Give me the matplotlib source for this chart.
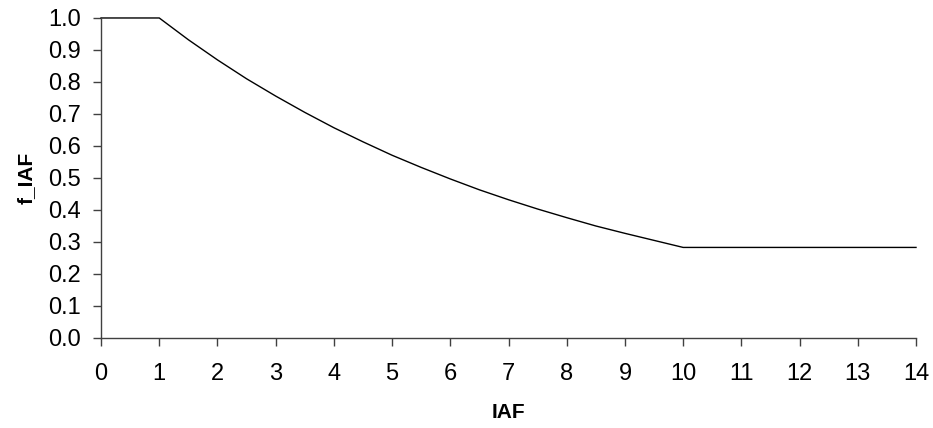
import matplotlib
matplotlib.use("Agg")
import matplotlib.pyplot as plt

plt.rcParams['font.family'] = ['Liberation Sans', 'DejaVu Sans']

# IAF vs f_IAF response
iaf = [0, 1, 1.5, 2, 2.5, 3, 3.5, 4, 4.5, 5, 5.5, 6, 6.5, 7, 7.5, 8, 8.5,
       9, 9.5, 10, 11, 12, 13, 14]
f_iaf = [1.0, 1.0, 0.932, 0.869, 0.81, 0.756, 0.705, 0.657, 0.613, 0.571,
         0.533, 0.497, 0.463, 0.432, 0.403, 0.376, 0.350, 0.327, 0.305,
         0.283, 0.283, 0.283, 0.283, 0.283]

x_ticks = list(range(0, 15))
y_ticks = [i / 10 for i in range(0, 11)]

fig = plt.figure(figsize=(9.33, 4.28), dpi=100)
ax = fig.add_axes([0.1083, 0.2103, 0.8735, 0.7477])

ax.plot(iaf, f_iaf, color='black', linewidth=1.0, clip_on=False)

ax.set_xlim(0, 14)
ax.set_ylim(0, 1.0)
ax.set_xticks(x_ticks)
ax.set_yticks(y_ticks)
ax.set_yticklabels([f"{v:.1f}" for v in y_ticks])

for side in ['top', 'right']:
    ax.spines[side].set_visible(False)
for side in ['left', 'bottom']:
    ax.spines[side].set_color('#404040')
    ax.spines[side].set_linewidth(1.0)

ax.tick_params(axis='both', direction='out', length=5.5, width=1.0,
               color='#404040', labelsize=17)
ax.tick_params(axis='x', pad=12.5)
ax.tick_params(axis='y', pad=9)

ax.set_xlabel('IAF', fontsize=15, fontweight='bold', va='center')
ax.set_ylabel('f_IAF', fontsize=15, fontweight='bold', va='center')
ax.xaxis.set_label_coords(0.5, -0.234)
ax.yaxis.set_label_coords(-0.092, 0.5)

fig.savefig('out.png', dpi=100)
